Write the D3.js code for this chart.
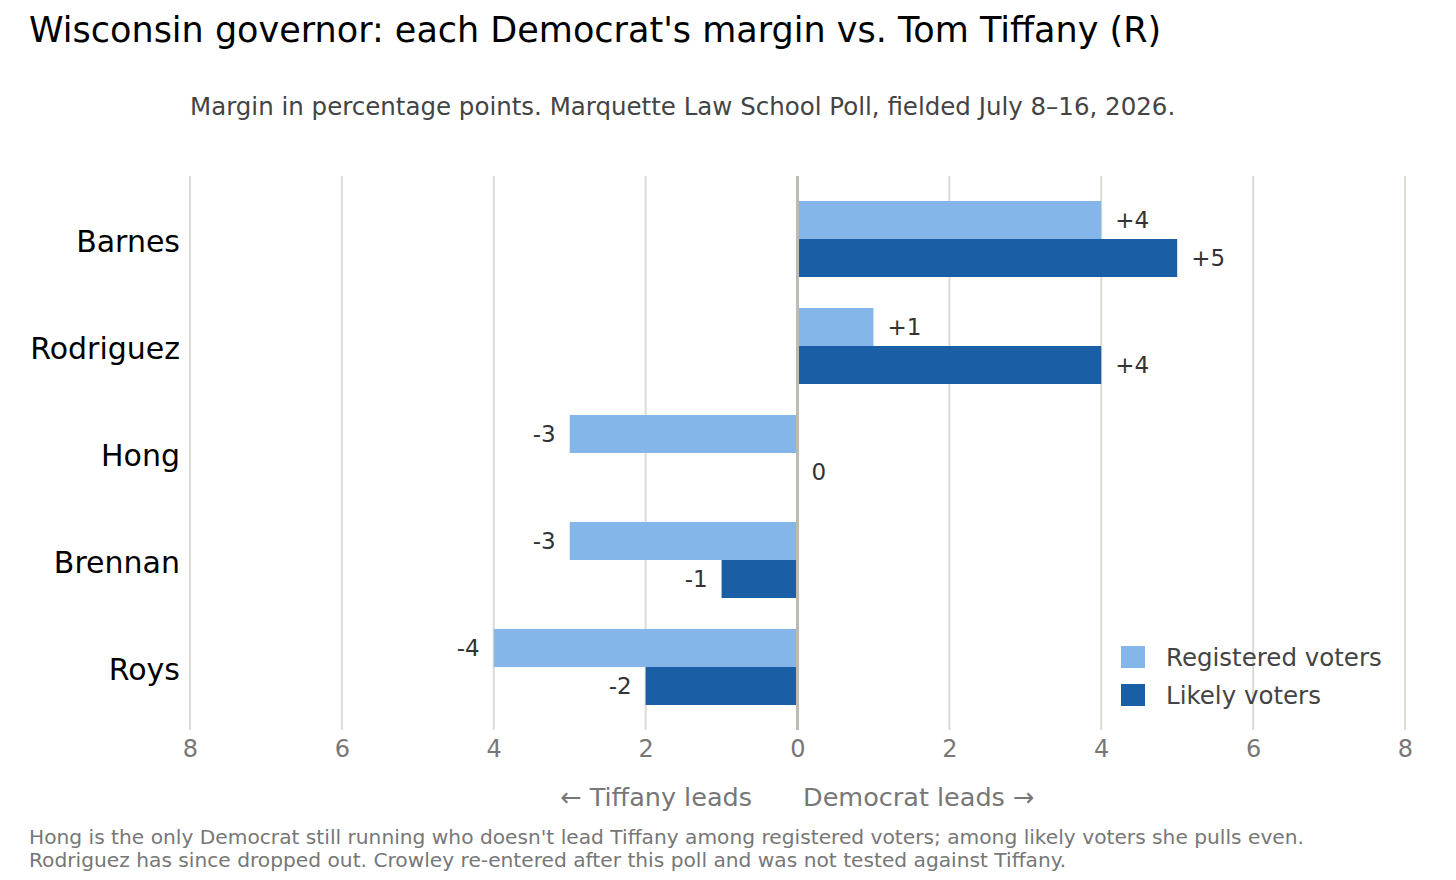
<!DOCTYPE html>
<html>
<head>
<meta charset="utf-8">
<script src="https://cdn.jsdelivr.net/npm/d3@7"></script>
<style>
  body { margin: 0; background: #fff; }
  svg { font-family: "DejaVu Sans", sans-serif; }
</style>
</head>
<body>
<div id="chart"></div>
<script>
// data
const candidates = ["Barnes", "Rodriguez", "Hong", "Brennan", "Roys"];
const registered = [4, 1, -3, -3, -4];
const likely = [5, 4, 0, -1, -2];
const seriesNames = ["Registered voters", "Likely voters"];
const xTicks = [-8, -6, -4, -2, 0, 2, 4, 6, 8];

const W = 1456, H = 880;
const colors = ["#85b6ea", "#1a5fa6"];

const svg = d3.select("#chart")
    .append("svg")
    .attr("width", W)
    .attr("height", H);

// scales
const x = d3.scaleLinear().domain([-8, 8]).range([190, 1405]);
const plotTop = 176, plotBottom = 730;
const y = d3.scalePoint()
    .domain(candidates)
    .range([239, 667]);
const barH = 38;

// title + subtitle
svg.append("text")
    .attr("x", 29).attr("y", 42)
    .style("font-size", "35px")
    .style("fill", "#000")
    .text("Wisconsin governor: each Democrat's margin vs. Tom Tiffany (R)");

svg.append("text")
    .attr("x", 190).attr("y", 115)
    .style("font-size", "24.5px")
    .style("fill", "#444")
    .text("Margin in percentage points. Marquette Law School Poll, fielded July 8\u201316, 2026.");

// gridlines
svg.append("g")
    .selectAll("line")
    .data(xTicks.filter(d => d !== 0))
    .join("line")
    .attr("x1", d => x(d)).attr("x2", d => x(d))
    .attr("y1", plotTop).attr("y2", plotBottom)
    .style("stroke", "#dcdcd4")
    .style("stroke-width", 2);

// tick labels (absolute values)
svg.append("g")
    .attr("transform", `translate(0, ${plotBottom})`)
    .call(d3.axisBottom(x).tickValues(xTicks).tickSize(0).tickPadding(10)
        .tickFormat(d => Math.abs(d)))
    .call(g => g.select(".domain").remove())
    .selectAll("text")
    .style("font-family", "DejaVu Sans, sans-serif")
    .style("font-size", "24px")
    .style("fill", "#777");

// bars
const rows = candidates.map((c, i) => ({c, vals: [registered[i], likely[i]]}));

const groups = svg.append("g")
    .selectAll("g")
    .data(rows)
    .join("g");

groups.selectAll("rect")
    .data(d => d.vals.map((v, k) => ({c: d.c, v, k})))
    .join("rect")
    .attr("x", d => x(Math.min(0, d.v)))
    .attr("y", d => y(d.c) - barH + d.k * barH)
    .attr("width", d => Math.abs(x(d.v) - x(0)))
    .attr("height", barH)
    .style("fill", d => colors[d.k]);

// value labels
groups.selectAll("text.val")
    .data(d => d.vals.map((v, k) => ({c: d.c, v, k})))
    .join("text")
    .attr("class", "val")
    .attr("x", d => d.v >= 0 ? x(d.v) + 14 : x(d.v) - 14)
    .attr("y", d => y(d.c) - barH / 2 + d.k * barH)
    .attr("dy", "0.35em")
    .attr("text-anchor", d => d.v >= 0 ? "start" : "end")
    .style("font-size", "23px")
    .style("fill", "#333")
    .text(d => d.v > 0 ? "+" + d.v : d.v);

// zero line
svg.append("line")
    .attr("x1", x(0)).attr("x2", x(0))
    .attr("y1", plotTop).attr("y2", plotBottom)
    .style("stroke", "#bdbab2")
    .style("stroke-width", 3);

// category labels
svg.append("g")
    .selectAll("text")
    .data(candidates)
    .join("text")
    .attr("x", 180)
    .attr("y", d => y(d) + 2)
    .attr("dy", "0.35em")
    .attr("text-anchor", "end")
    .style("font-size", "30px")
    .style("fill", "#000")
    .text(d => d);

// legend
const legend = svg.append("g")
    .attr("transform", "translate(1121, 646)");
legend.selectAll("rect")
    .data(seriesNames)
    .join("rect")
    .attr("x", 0)
    .attr("y", (d, i) => i * 38)
    .attr("width", 24).attr("height", 22)
    .style("fill", (d, i) => colors[i]);
legend.selectAll("text")
    .data(seriesNames)
    .join("text")
    .attr("x", 45)
    .attr("y", (d, i) => i * 38 + 11)
    .attr("dy", "0.35em")
    .style("font-size", "24.5px")
    .style("fill", "#444")
    .text(d => d);

// direction labels
svg.append("text")
    .attr("x", 752).attr("y", 806)
    .attr("text-anchor", "end")
    .style("font-size", "25.5px")
    .style("fill", "#777")
    .text("\u2190 Tiffany leads");
svg.append("text")
    .attr("x", 803).attr("y", 806)
    .style("font-size", "25.5px")
    .style("fill", "#777")
    .text("Democrat leads \u2192");

// footnote
const notes = [
    "Hong is the only Democrat still running who doesn't lead Tiffany among registered voters; among likely voters she pulls even.",
    "Rodriguez has since dropped out. Crowley re-entered after this poll and was not tested against Tiffany."
];
svg.append("g")
    .selectAll("text")
    .data(notes)
    .join("text")
    .attr("x", 29)
    .attr("y", (d, i) => 844 + i * 23)
    .style("font-size", "20.2px")
    .style("fill", "#777")
    .text(d => d);
</script>
</body>
</html>
